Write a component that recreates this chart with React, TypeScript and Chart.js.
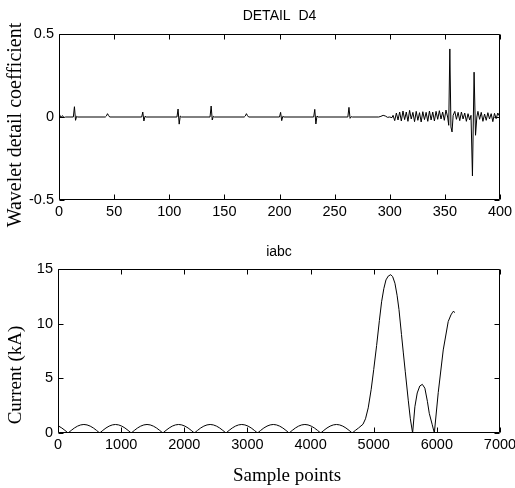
import { useEffect, useRef } from 'react';
import { Chart, registerables } from 'chart.js';

Chart.register(...registerables);

// ---------- Data: DETAIL D4 (wavelet detail coefficients) ----------
const detailX = [
  0, 1, 2, 3, 4, 5, 6,
  13, 14, 15, 16, 17,
  42, 43, 44, 45, 46,
  75, 76, 77, 78, 79,
  107, 108, 109, 110, 111,
  137, 138, 139, 140, 141,
  168, 169, 170, 171, 172,
  200, 201, 202, 203, 204,
  231, 232, 233, 234, 235,
  262, 263, 264, 265, 266,
  290, 292, 294, 296, 298, 300, 302,
  303, 304.5, 306, 307.5, 309, 310.5, 312, 313.5, 315, 316.5, 318, 319.5, 321, 322.5, 324, 325.5, 327,
  328.5, 330, 331.5, 333, 334.5, 336, 337.5, 339, 340.5, 342, 343.5, 345, 346.5, 348, 349.5, 351, 352.5,
  353.5, 354.5, 355.5, 356.5, 357.5,
  359, 360.5, 362, 363.5, 365, 366.5, 368, 369.5, 371, 372.5, 373.7,
  375, 376.5, 377.8, 379,
  380, 381.5, 383, 384.5, 386, 387.5, 389, 390.5, 392, 393.5, 395, 396.5, 398, 399.5, 400,
];
const detailY = [
  0.004, 0.01, -0.004, 0.008, 0.002, -0.002, 0,
  0, 0.062, -0.02, 0.004, 0,
  0, 0.006, 0.02, 0.009, 0,
  0, 0.03, -0.024, 0.004, 0,
  0, 0.048, -0.043, 0.006, 0,
  0, 0.066, -0.018, 0.004, 0,
  0, 0.006, 0.02, 0.008, 0,
  0, 0.028, -0.022, 0.004, 0,
  0, 0.046, -0.042, 0.006, 0,
  0, 0.058, -0.008, 0.002, 0,
  0, 0.004, 0.01, 0.006, -0.002, 0, -0.004,
  0.01, -0.022, 0.024, -0.018, 0.03, -0.024, 0.036, -0.016, 0.03, -0.026, 0.04, -0.012, 0.028, -0.028, 0.034, -0.02, 0.026,
  -0.03, 0.032, -0.016, 0.028, -0.026, 0.036, -0.018, 0.03, -0.024, 0.034, -0.014, 0.038, -0.012, 0.03, -0.02, 0.042, 0.0,
  -0.05, 0.41, -0.06, -0.09, 0.01,
  0.034, -0.014, 0.028, -0.022, 0.03, -0.012, 0.024, -0.026, 0.02, -0.018, 0.01,
  -0.355, 0.27, -0.11, 0.0,
  0.034, -0.014, 0.028, -0.026, 0.018, -0.02, 0.026, -0.012, 0.02, -0.028, 0.022, -0.01, 0.024, 0.006, 0.01,
];
const detailXTicks = [0, 50, 100, 150, 200, 250, 300, 350, 400];
const detailYTicks = [-0.5, 0, 0.5];

// ---------- Data: iabc (current, kA) ----------
const currentX = [
  0, 10, 60, 110,
  160, 210, 260, 310, 360, 410, 460, 510, 560, 610,
  660, 710, 760, 810, 860, 910, 960, 1010, 1060, 1110,
  1160, 1210, 1260, 1310, 1360, 1410, 1460, 1510, 1560, 1610,
  1660, 1710, 1760, 1810, 1860, 1910, 1960, 2010, 2060, 2110,
  2160, 2210, 2260, 2310, 2360, 2410, 2460, 2510, 2560, 2610,
  2660, 2710, 2760, 2810, 2860, 2910, 2960, 3010, 3060, 3110,
  3160, 3210, 3260, 3310, 3360, 3410, 3460, 3510, 3560, 3610,
  3660, 3710, 3760, 3810, 3860, 3910, 3960, 4010, 4060, 4110,
  4160, 4210, 4260, 4310, 4360, 4410, 4460, 4510, 4560, 4610,
  4660, 4710, 4760, 4830,
  4870, 4913, 4960, 5000, 5046, 5090, 5125, 5160, 5194, 5230, 5270, 5300, 5336, 5370, 5400, 5440, 5468, 5500, 5547, 5580, 5616,
  5652, 5689, 5730, 5770, 5810, 5850, 5880, 5925, 5960,
  6022, 6101, 6180, 6223, 6250, 6265, 6280,
];
const currentY = [
  0.66, 0.63, 0.46, 0.24,
  0, 0.24, 0.46, 0.63, 0.74, 0.78, 0.74, 0.63, 0.46, 0.24,
  0, 0.24, 0.46, 0.63, 0.74, 0.78, 0.74, 0.63, 0.46, 0.24,
  0, 0.24, 0.46, 0.63, 0.74, 0.78, 0.74, 0.63, 0.46, 0.24,
  0, 0.24, 0.46, 0.63, 0.74, 0.78, 0.74, 0.63, 0.46, 0.24,
  0, 0.24, 0.46, 0.63, 0.74, 0.78, 0.74, 0.63, 0.46, 0.24,
  0, 0.24, 0.46, 0.63, 0.74, 0.78, 0.74, 0.63, 0.46, 0.24,
  0, 0.24, 0.46, 0.63, 0.74, 0.78, 0.74, 0.63, 0.46, 0.24,
  0, 0.24, 0.46, 0.63, 0.74, 0.78, 0.74, 0.63, 0.46, 0.24,
  0, 0.24, 0.46, 0.63, 0.74, 0.78, 0.74, 0.63, 0.46, 0.24,
  0, 0.24, 0.46, 0.8,
  1.3, 2.3, 4.0, 5.8, 8.0, 10.3, 12.0, 13.2, 14.0, 14.35, 14.48, 14.3, 13.7, 12.6, 11.3, 9.0, 7.4, 5.6, 3.0, 1.3, 0.0,
  2.4, 3.66, 4.3, 4.45, 4.1, 2.9, 1.8, 0.8, 0.0,
  3.7, 7.6, 10.2, 10.8, 11.05, 11.15, 11.0,
];
const currentXTicks = [0, 1000, 2000, 3000, 4000, 5000, 6000, 7000];
const currentYTicks = [0, 5, 10, 15];

const SANS = "'Liberation Sans', Arial, sans-serif";
const SERIF = "'Liberation Serif', 'Times New Roman', serif";

type Labels = {
  title: string;
  titleY: number;
  yLabel: string;
  yLabelX: number;
  yLabelY: number;
  yLabelSize: number;
  xLabel?: string;
  xLabelX?: number;
  xLabelY?: number;
};

function makeFramePlugin() {
  return {
    id: 'frameTicks',
    afterDatasetsDraw(chart: any) {
      const { ctx, chartArea: a, scales } = chart;
      const L = Math.round(a.left) + 0.5;
      const R = Math.round(a.right) - 0.5;
      const T = Math.round(a.top) + 0.5;
      const B = Math.round(a.bottom) - 0.5;
      const len = 5;
      ctx.save();
      ctx.strokeStyle = '#000';
      ctx.lineWidth = 1;
      ctx.beginPath();
      ctx.rect(L, T, R - L, B - T);
      for (const t of scales.x.ticks) {
        const px = Math.round(scales.x.getPixelForValue(t.value)) + 0.5;
        ctx.moveTo(px, B);
        ctx.lineTo(px, B - len);
        ctx.moveTo(px, T);
        ctx.lineTo(px, T + len);
      }
      for (const t of scales.y.ticks) {
        const py = Math.round(scales.y.getPixelForValue(t.value)) + 0.5;
        ctx.moveTo(L, py);
        ctx.lineTo(L + len, py);
        ctx.moveTo(R, py);
        ctx.lineTo(R - len, py);
      }
      ctx.stroke();
      ctx.restore();
    },
  };
}

function makeTextPlugin(lab: Labels) {
  return {
    id: 'texts',
    afterDraw(chart: any) {
      const { ctx, chartArea: a } = chart;
      ctx.save();
      ctx.fillStyle = '#000';
      ctx.textAlign = 'center';
      ctx.textBaseline = 'middle';
      ctx.font = `14px ${SANS}`;
      ctx.fillText(lab.title, (a.left + a.right) / 2, lab.titleY);
      if (lab.xLabel) {
        ctx.font = `19px ${SERIF}`;
        ctx.fillText(lab.xLabel, lab.xLabelX as number, lab.xLabelY as number);
      }
      ctx.font = `${lab.yLabelSize}px ${SERIF}`;
      ctx.translate(lab.yLabelX, lab.yLabelY);
      ctx.rotate(-Math.PI / 2);
      ctx.fillText(lab.yLabel, 0, 0);
      ctx.restore();
    },
  };
}

function buildConfig(
  xs: number[],
  ys: number[],
  xTicks: number[],
  yTicks: number[],
  yWidth: number,
  xHeight: number,
  padTop: number,
  labels: Labels,
  yFmt: (v: number) => string,
): any {
  const pts = xs.map((x, i) => ({ x, y: ys[i] }));
  return {
    type: 'line',
    data: {
      datasets: [
        {
          data: pts,
          borderColor: '#000',
          borderWidth: 1,
          pointRadius: 0,
          tension: 0,
          fill: false,
        },
      ],
    },
    options: {
      responsive: false,
      animation: false,
      devicePixelRatio: 1,
      layout: { padding: { top: padTop, right: 15, left: 0, bottom: 0 } },
      plugins: { legend: { display: false }, tooltip: { enabled: false }, title: { display: false } },
      scales: {
        x: {
          type: 'linear',
          min: xTicks[0],
          max: xTicks[xTicks.length - 1],
          afterBuildTicks: (s: any) => {
            s.ticks = xTicks.map((v) => ({ value: v }));
          },
          afterFit: (s: any) => {
            s.height = xHeight;
            s.paddingLeft = 0;
            s.paddingRight = 0;
          },
          grid: { display: false, drawTicks: false },
          border: { display: false },
          ticks: {
            autoSkip: false,
            maxRotation: 0,
            padding: 3,
            color: '#000',
            font: { family: SANS, size: 14.5 },
            callback: (v: any) => String(v),
          },
        },
        y: {
          type: 'linear',
          min: yTicks[0],
          max: yTicks[yTicks.length - 1],
          afterBuildTicks: (s: any) => {
            s.ticks = yTicks.map((v) => ({ value: v }));
          },
          afterFit: (s: any) => {
            s.width = yWidth;
            s.paddingTop = 0;
            s.paddingBottom = 0;
          },
          grid: { display: false, drawTicks: false },
          border: { display: false },
          ticks: {
            autoSkip: false,
            padding: 5,
            color: '#000',
            font: { family: SANS, size: 14.5 },
            callback: (v: any) => yFmt(Number(v)),
          },
        },
      },
    },
    plugins: [makeFramePlugin(), makeTextPlugin(labels)],
  };
}

export default function App() {
  const topRef = useRef<HTMLCanvasElement | null>(null);
  const botRef = useRef<HTMLCanvasElement | null>(null);

  useEffect(() => {
    const c1 = new Chart(
      topRef.current as HTMLCanvasElement,
      buildConfig(detailX, detailY, detailXTicks, detailYTicks, 59, 40, 34, {
        title: 'DETAIL  D4',
        titleY: 16,
        yLabel: 'Wavelet detail coefficient',
        yLabelX: 16,
        yLabelY: 125,
        yLabelSize: 20,
      }, (v) => (v === 0 ? '0' : String(v))),
    );
    const c2 = new Chart(
      botRef.current as HTMLCanvasElement,
      buildConfig(currentX, currentY, currentXTicks, currentYTicks, 58, 55, 29, {
        title: 'iabc',
        titleY: 12,
        yLabel: 'Current (kA)',
        yLabelX: 16,
        yLabelY: 135,
        yLabelSize: 19,
        xLabel: 'Sample points',
        xLabelX: 287,
        xLabelY: 236,
      }, (v) => String(v)),
    );
    return () => {
      c1.destroy();
      c2.destroy();
    };
  }, []);

  return (
    <div style={{ position: 'absolute', left: 0, top: 0, width: 515, height: 488, background: '#fff' }}>
      <canvas ref={topRef} width={515} height={240} style={{ display: 'block', width: 515, height: 240 }} />
      <canvas ref={botRef} width={515} height={248} style={{ display: 'block', width: 515, height: 248 }} />
    </div>
  );
}
